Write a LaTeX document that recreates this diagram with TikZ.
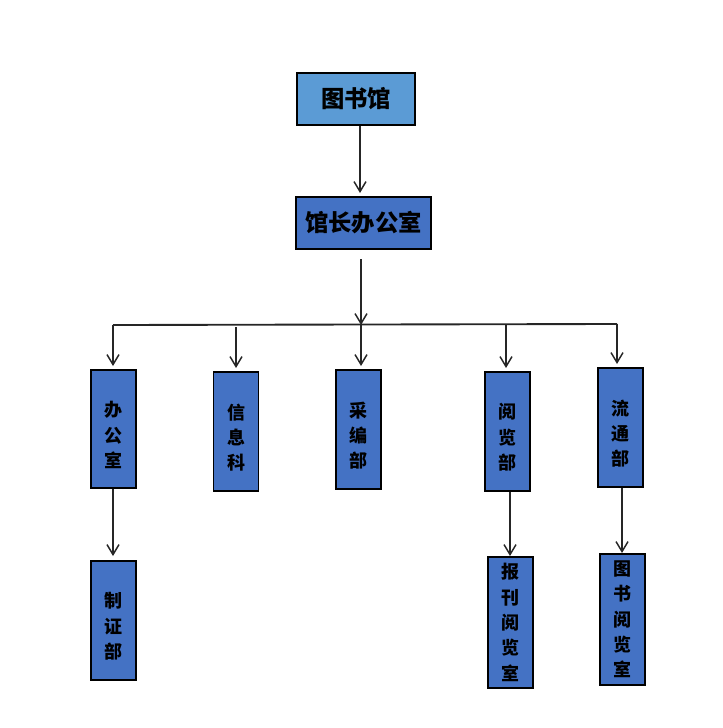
\documentclass[tikz,border=0pt]{standalone}
\usepackage{fontspec}
\newfontfamily\cjk{Noto Sans CJK SC}
\usetikzlibrary{arrows.meta}
\definecolor{lightb}{HTML}{5B9BD5}
\definecolor{darkb}{HTML}{4472C4}
\newcommand\vtxt[3]{\parbox[c][#1][c]{33.75pt}{\centering\vspace*{#2}#3}}
\tikzset{
  box/.style={draw=black, line width=0.9pt, inner sep=0pt, font=\cjk\bfseries},
  hbox/.style={box, fill=darkb, font=\cjk\bfseries\fontsize{17.5}{17.5}\selectfont},
  vbox/.style={box, fill=darkb, font=\cjk\bfseries\fontsize{13.5}{19}\selectfont},
  conn/.style={line width=1.4pt, draw=black!85},
  arr/.style={conn, -{Straight Barb[length=7.5pt,width=9pt,line width=1.1pt]}}
}
\begin{document}
\begin{tikzpicture}[x=0.75pt,y=-0.75pt]
\useasboundingbox (0,0) rectangle (723,728);
% top boxes
\node[hbox, fill=lightb, minimum width=118*0.75pt, minimum height=52*0.75pt] (lib) at (356,99) {图书馆};
\node[hbox, minimum width=135*0.75pt, minimum height=52*0.75pt] (dir) at (363.5,223) {馆长办公室};
% departments
\node[vbox] (bgs) at (113.5,429) {\vtxt{88.5pt}{9pt}{办\\公\\室}};
\node[vbox] (xxk) at (236,431.5) {\vtxt{89.25pt}{9pt}{信\\息\\科}};
\node[vbox] (cbb) at (358.5,429.5) {\vtxt{89.25pt}{9pt}{采\\编\\部}};
\node[vbox] (ylb) at (507.5,431.5) {\vtxt{89.25pt}{9pt}{阅\\览\\部}};
\node[vbox] (ltb) at (620.5,427.5) {\vtxt{89.25pt}{9pt}{流\\通\\部}};
% sub units
\node[vbox] (zzb) at (113.5,620.5) {\vtxt{89.25pt}{9pt}{制\\证\\部}};
\node[vbox] (bk) at (510.5,622.5) {\vtxt{98.25pt}{0pt}{报\\刊\\阅\\览\\室}};
\node[vbox] (ts) at (622.5,619.5) {\vtxt{98.25pt}{0pt}{图\\书\\阅\\览\\室}};
% connector coordinates
\coordinate (hl) at (113,325);
\coordinate (hr) at (617,324);
\coordinate (hm) at (361,325);
\coordinate (dtop) at (361,259);
\coordinate (h2) at (236,327);
\coordinate (h4) at (506,325);
% connectors
\draw[arr] (lib.south -| 360,0) -- (360,193);
\draw[arr] (dtop) -- (hm);
\draw[conn] (hl) -- (hr);
\draw[arr] (hl) -- (113,366);
\draw[arr] (h2) -- (236,368);
\draw[arr] (hm) -- (361,366);
\draw[arr] (h4) -- (506,368);
\draw[arr] (hr) -- (617,364);
\draw[arr] (bgs.south -| 113,0) -- (113,556);
\draw[arr] (ylb.south -| 510,0) -- (510,556);
\draw[arr] (ltb.south -| 622,0) -- (622,553);
\end{tikzpicture}
\end{document}
